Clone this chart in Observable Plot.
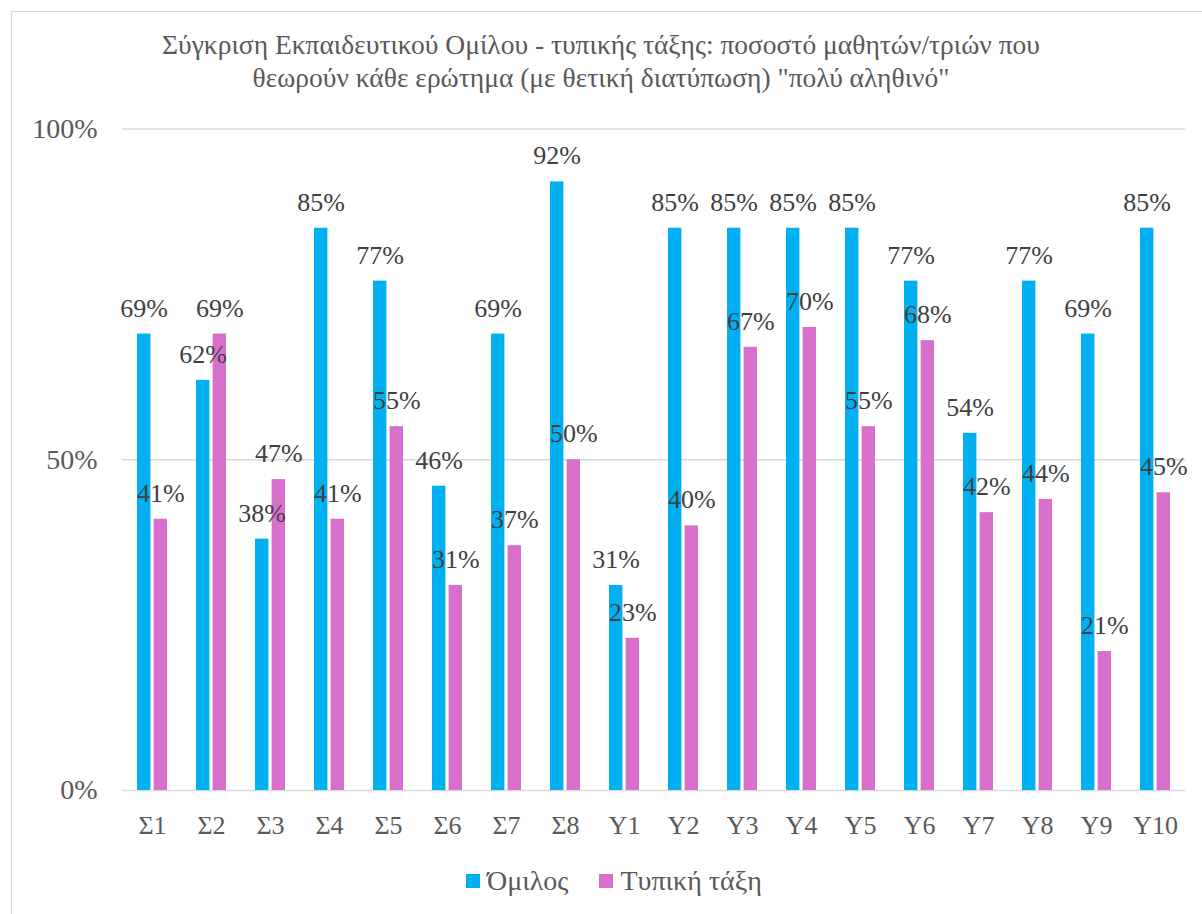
<!DOCTYPE html>
<html>
<head>
<meta charset="utf-8">
<script src="https://cdn.jsdelivr.net/npm/d3@7"></script>
<script src="https://cdn.jsdelivr.net/npm/@observablehq/plot@0.6"></script>
<style>
  html, body { margin: 0; padding: 0; background: #fff; overflow: hidden; }
  body { width: 1202px; height: 914px; position: relative; font-family: "Liberation Serif", "Times New Roman", Times, "DejaVu Serif", "Noto Serif", serif; }
  #frame { position: absolute; left: 11px; top: 11px; width: 1400px; height: 1100px; border: 1px solid #d9d9d9; box-sizing: border-box; }
  #chart { position: absolute; left: 0; top: 0; }
  #title { position: absolute; left: 0; width: 1202px; top: 28px; text-align: center; font-size: 27.5px; line-height: 33px; color: #595959; }
  #legend { position: absolute; left: 466px; top: 865px; display: flex; align-items: center; font-size: 28px; color: #595959; }
  .sw { display: inline-block; width: 14px; height: 14px; margin-right: 7px; }
  .item { display: flex; align-items: center; margin-right: 31px; }
  #chart svg text { font-family: "Liberation Serif", "Times New Roman", Times, "DejaVu Serif", "Noto Serif", serif; }
</style>
</head>
<body>
<div id="frame"></div>
<div id="chart"></div>
<div id="title">Σύγκριση Εκπαιδευτικού Ομίλου - τυπικής τάξης: ποσοστό μαθητών/τριών που<br>θεωρούν κάθε ερώτημα (με θετική διατύπωση) "πολύ αληθινό"</div>
<div id="legend"></div>
<script>
const categories = ["Σ1","Σ2","Σ3","Σ4","Σ5","Σ6","Σ7","Σ8","Υ1","Υ2","Υ3","Υ4","Υ5","Υ6","Υ7","Υ8","Υ9","Υ10"];
const omilos = [69,62,38,85,77,46,69,92,31,85,85,85,85,77,54,77,69,85];
const typiki = [41,69,47,41,55,31,37,50,23,40,67,70,55,68,42,44,21,45];
const seriesNames = ["Όμιλος", "Τυπική τάξη"];
const seriesColors = ["#00B0F0", "#D86FCB"];
const yTicks = [0, 50, 100];

const rowsA = categories.map((c, i) => ({cat: c, value: omilos[i]}));
const rowsB = categories.map((c, i) => ({cat: c, value: typiki[i]}));

const labelStyle = {fontSize: 26, fill: "#404040", lineAnchor: "bottom", dy: -17.5};

const chart = Plot.plot({
  width: 1202,
  height: 914,
  marginLeft: 122,
  marginRight: 17,
  marginTop: 128.5,
  marginBottom: 124,
  style: {fontFamily: "'Liberation Serif', 'Times New Roman', Times, 'DejaVu Serif', serif", background: "transparent", overflow: "visible"},
  x: {domain: categories, paddingInner: 0.49, paddingOuter: 0.245, label: null},
  y: {domain: [0, 100], label: null},
  marks: [
    Plot.ruleY(yTicks, {stroke: "#d9d9d9", strokeWidth: 1.3}),
    Plot.axisY({ticks: yTicks, tickFormat: d => d + "%", tickSize: 0, tickPadding: 25, fontSize: 28, fill: "#595959", label: null}),
    Plot.axisX({tickSize: 0, tickPadding: 25, fontSize: 26, fill: "#595959", label: null}),
    Plot.barY(rowsA, {x: "cat", y: "value", fill: seriesColors[0], insetRight: 16.6}),
    Plot.barY(rowsB, {x: "cat", y: "value", fill: seriesColors[1], insetLeft: 16.6}),
    Plot.text(rowsA, {x: "cat", y: "value", text: d => d.value + "%", dx: -8.3, ...labelStyle}),
    Plot.text(rowsB, {x: "cat", y: "value", text: d => d.value + "%", dx: 8.3, ...labelStyle})
  ]
});
document.getElementById("chart").appendChild(chart);

const legend = document.getElementById("legend");
seriesNames.forEach((name, i) => {
  const item = document.createElement("div");
  item.className = "item";
  const sw = document.createElement("span");
  sw.className = "sw";
  sw.style.background = seriesColors[i];
  item.appendChild(sw);
  item.appendChild(document.createTextNode(name));
  legend.appendChild(item);
});
</script>
</body>
</html>
